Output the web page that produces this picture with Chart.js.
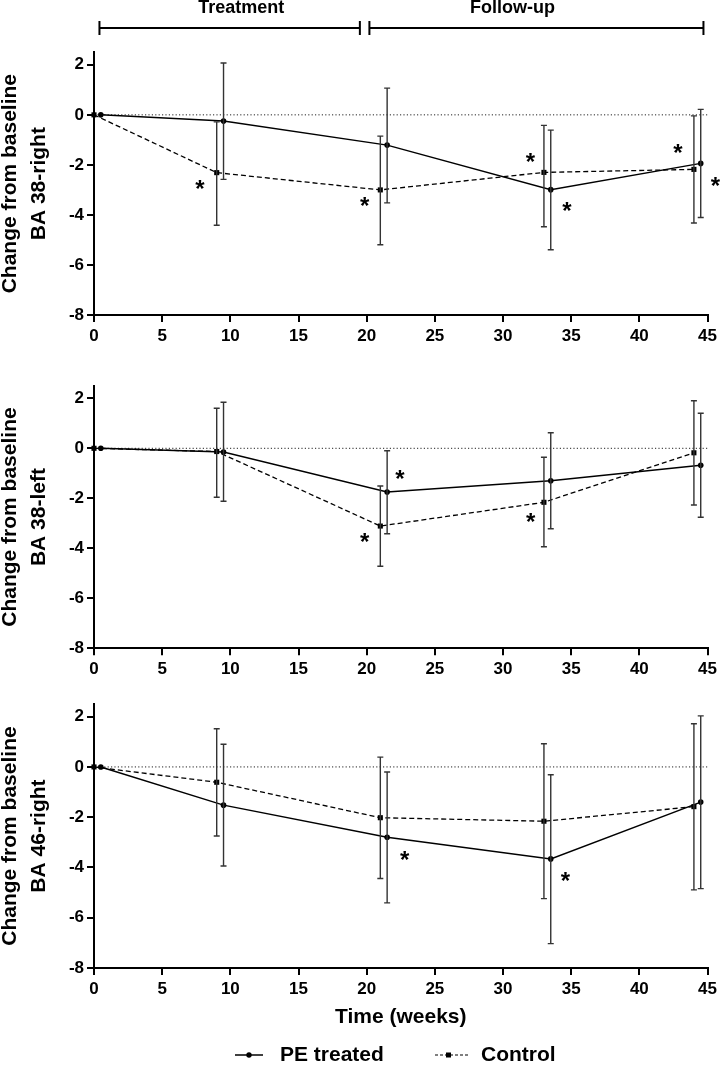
<!DOCTYPE html>
<html><head><meta charset="utf-8">
<script src="https://cdn.jsdelivr.net/npm/chart.js@4.4.1/dist/chart.umd.min.js"></script>
<style>
html,body{margin:0;padding:0;background:#fff;}
#wrap{position:relative;width:721px;height:1065px;overflow:hidden;}
canvas{position:absolute;left:0;top:0;}
</style></head><body><div id="wrap">
<canvas id="c1"></canvas>
<canvas id="c2"></canvas>
<canvas id="c3"></canvas>
</div>
<script>
// ---------- data ----------
const weeksPE = [0.5, 9.5, 21.5, 33.5, 44.5];
const weeksCtrl = [0, 9, 21, 33, 44];
const xTicks = [0, 5, 10, 15, 20, 25, 30, 35, 40, 45];
const yTicks = [-8, -6, -4, -2, 0, 2];
const seriesNames = ["PE treated", "Control"];
const phaseLabels = ["Treatment", "Follow-up"];
const phaseRanges = [[0.4, 19.5], [20.2, 44.7]];
const phaseLabelX = [10.8, 30.7];

const title1 = ["Change from baseline", "BA 38-right"];
const pe1 = [0, -0.25, -1.21, -2.99, -1.94];
const pe1Hi = [null, 2.07, 1.07, -0.61, 0.22];
const pe1Lo = [null, -2.58, -3.52, -5.39, -4.10];
const ct1 = [0, -2.31, -3.00, -2.30, -2.18];
const ct1Hi = [null, -0.28, -0.85, -0.42, -0.04];
const ct1Lo = [null, -4.41, -5.19, -4.47, -4.32];
const stars1 = [[7.77, -2.77], [19.86, -3.45], [32.0, -1.68], [34.69, -3.64], [42.82, -1.31], [45.57, -2.66]];

const title2 = ["Change from baseline", "BA 38-left"];
const pe2 = [0, -0.15, -1.75, -1.30, -0.68];
const pe2Hi = [null, 1.84, -0.10, 0.62, 1.40];
const pe2Lo = [null, -2.12, -3.42, -3.22, -2.76];
const ct2 = [0, -0.13, -3.11, -2.16, -0.18];
const ct2Hi = [null, 1.60, -1.51, -0.36, 1.90];
const ct2Lo = [null, -1.96, -4.72, -3.94, -2.27];
const stars2 = [[22.43, -1.03], [19.86, -3.56], [32.03, -2.74]];

const title3 = ["Change from baseline", "BA 46-right"];
const pe3 = [0, -1.52, -2.80, -3.66, -1.40];
const pe3Hi = [null, 0.90, -0.20, -0.31, 2.03];
const pe3Lo = [null, -3.94, -5.41, -7.03, -4.84];
const ct3 = [0, -0.61, -2.02, -2.16, -1.58];
const ct3Hi = [null, 1.52, 0.39, 0.92, 1.72];
const ct3Lo = [null, -2.75, -4.44, -5.24, -4.89];
const stars3 = [[22.79, -3.50], [34.57, -4.33]];
const xTitle = "Time (weeks)";

// ---------- helpers ----------
const FONT = "'Liberation Sans', Arial, Helvetica, sans-serif";
const W = 721, H = 1065;
const pts = (xs, ys) => xs.map((x, i) => ({x: x, y: ys[i]}));

const errorBars = {
  id: 'errorBars',
  afterDatasetsDraw(chart, args, o) {
    const {ctx, scales: {x, y}} = chart;
    ctx.save();
    ctx.strokeStyle = '#333';
    ctx.lineWidth = 1.4;
    o.sets.forEach(s => {
      s.xs.forEach((xv, i) => {
        if (s.hi[i] == null) return;
        const px = x.getPixelForValue(xv);
        const pt = y.getPixelForValue(s.hi[i]);
        const pb = y.getPixelForValue(s.lo[i]);
        ctx.beginPath();
        ctx.moveTo(px, pt); ctx.lineTo(px, pb);
        ctx.moveTo(px - 3, pt); ctx.lineTo(px + 3, pt);
        ctx.moveTo(px - 3, pb); ctx.lineTo(px + 3, pb);
        ctx.stroke();
      });
    });
    ctx.restore();
  }
};

const stars = {
  id: 'stars',
  afterDraw(chart, args, o) {
    const {ctx, scales: {x, y}} = chart;
    ctx.save();
    ctx.fillStyle = '#000';
    ctx.font = 'bold 24px ' + FONT;
    ctx.textAlign = 'center';
    ctx.textBaseline = 'alphabetic';
    o.list.forEach(([sx, sy]) => {
      ctx.fillText('*', x.getPixelForValue(sx), y.getPixelForValue(sy) + 13);
    });
    ctx.restore();
  }
};

const header = {
  id: 'header',
  afterDraw(chart, args, o) {
    if (!o.show) return;
    const {ctx, scales: {x}} = chart;
    ctx.save();
    ctx.strokeStyle = '#000';
    ctx.lineWidth = 2;
    ctx.fillStyle = '#000';
    ctx.font = 'bold 18px ' + FONT;
    ctx.textAlign = 'center';
    ctx.textBaseline = 'middle';
    phaseRanges.forEach((r, i) => {
      const a = x.getPixelForValue(r[0]), b = x.getPixelForValue(r[1]);
      ctx.beginPath();
      ctx.moveTo(a, 28); ctx.lineTo(b, 28);
      ctx.moveTo(a, 21); ctx.lineTo(a, 35);
      ctx.moveTo(b, 21); ctx.lineTo(b, 35);
      ctx.stroke();
      ctx.fillText(phaseLabels[i], x.getPixelForValue(phaseLabelX[i]), 8);
    });
    ctx.restore();
  }
};

const legendPlug = {
  id: 'legendPlug',
  afterDraw(chart, args, o) {
    if (!o.show) return;
    const ctx = chart.ctx;
    const cy = 1055;
    ctx.save();
    ctx.strokeStyle = '#000';
    ctx.fillStyle = '#000';
    ctx.lineWidth = 1.5;
    ctx.beginPath(); ctx.moveTo(235, cy); ctx.lineTo(263, cy); ctx.stroke();
    ctx.beginPath(); ctx.arc(249, cy, 2.7, 0, Math.PI * 2); ctx.fill();
    ctx.lineWidth = 1.2;
    ctx.setLineDash([3, 2]);
    ctx.beginPath(); ctx.moveTo(435, cy); ctx.lineTo(470, cy); ctx.stroke();
    ctx.setLineDash([]);
    ctx.fillRect(446, cy - 2.5, 5, 5);
    ctx.font = 'bold 21px ' + FONT;
    ctx.textBaseline = 'middle';
    ctx.textAlign = 'left';
    ctx.fillText(seriesNames[0], 280, cy);
    ctx.fillText(seriesNames[1], 481, cy);
    ctx.restore();
  }
};

function makePanel(id, cfg) {
  const cv = document.getElementById(id);
  cv.width = W; cv.height = H;
  const xH = cfg.xTitle ? 62 : 32;
  const padTop = cfg.top;
  const padBottom = H - cfg.bottom - xH;
  return new Chart(cv, {
    type: 'line',
    data: {
      datasets: [
        {label: seriesNames[0], data: pts(weeksPE, cfg.pe), borderColor: '#000', backgroundColor: '#000',
         borderWidth: 1.5, pointStyle: 'circle', pointRadius: 2.8, pointBorderWidth: 0, clip: false, tension: 0},
        {label: seriesNames[1], data: pts(weeksCtrl, cfg.ct), borderColor: '#000', backgroundColor: '#000',
         borderWidth: 1.3, borderDash: [5, 3], pointStyle: 'rect', pointRadius: 3.6, pointBorderWidth: 0, clip: false, tension: 0},
        {label: 'zero', data: [{x: 0, y: 0}, {x: 45, y: 0}], borderColor: '#222', borderWidth: 1,
         borderDash: [1.2, 2.2], pointRadius: 0, clip: false}
      ]
    },
    options: {
      responsive: false,
      animation: false,
      devicePixelRatio: 1,
      events: [],
      layout: {padding: {top: padTop, bottom: padBottom, left: 0, right: 13}},
      plugins: {
        legend: {display: false},
        tooltip: {enabled: false},
        errorBars: {sets: [
          {xs: weeksPE, hi: cfg.peHi, lo: cfg.peLo},
          {xs: weeksCtrl, hi: cfg.ctHi, lo: cfg.ctLo}
        ]},
        stars: {list: cfg.stars},
        header: {show: !!cfg.header},
        legendPlug: {show: !!cfg.xTitle}
      },
      scales: {
        x: {
          type: 'linear', min: 0, max: 45,
          afterBuildTicks: s => { s.ticks = xTicks.map(v => ({value: v})); },
          afterFit: s => { s.height = xH; },
          grid: {drawOnChartArea: false, drawTicks: true, tickLength: 7, color: '#000', lineWidth: 2},
          border: {display: true, color: '#000', width: 2},
          ticks: {color: '#000', padding: 4, maxRotation: 0, autoSkip: false,
                  font: {family: FONT, size: 17, weight: 'bold'}},
          title: {display: !!cfg.xTitle, text: cfg.xTitle || '', color: '#000', padding: {top: 0, bottom: 0},
                  font: {family: FONT, size: 21, weight: 'bold', lineHeight: 1.2}}
        },
        y: {
          type: 'linear', min: -8, max: 2.5,
          afterBuildTicks: s => { s.ticks = yTicks.map(v => ({value: v})); },
          afterFit: s => { s.width = 94; },
          grid: {drawOnChartArea: false, drawTicks: true, tickLength: 7, color: '#000', lineWidth: 2},
          border: {display: true, color: '#000', width: 2},
          ticks: {color: '#000', padding: 3, font: {family: FONT, size: 17, weight: 'bold'}},
          title: {display: true, text: cfg.title, color: '#000', padding: {top: -4.3, bottom: 0},
                  font: {family: FONT, size: 21, weight: 'bold', lineHeight: 1.38}}
        }
      }
    },
    plugins: [errorBars, stars, header, legendPlug]
  });
}

makePanel('c1', {top: 52.3, bottom: 315, title: title1, pe: pe1, peHi: pe1Hi, peLo: pe1Lo,
                 ct: ct1, ctHi: ct1Hi, ctLo: ct1Lo, stars: stars1, header: true});
makePanel('c2', {top: 385.8, bottom: 648.3, title: title2, pe: pe2, peHi: pe2Hi, peLo: pe2Lo,
                 ct: ct2, ctHi: ct2Hi, ctLo: ct2Lo, stars: stars2});
makePanel('c3', {top: 704.1, bottom: 968, title: title3, pe: pe3, peHi: pe3Hi, peLo: pe3Lo,
                 ct: ct3, ctHi: ct3Hi, ctLo: ct3Lo, stars: stars3, xTitle: xTitle});
</script>
</body></html>
